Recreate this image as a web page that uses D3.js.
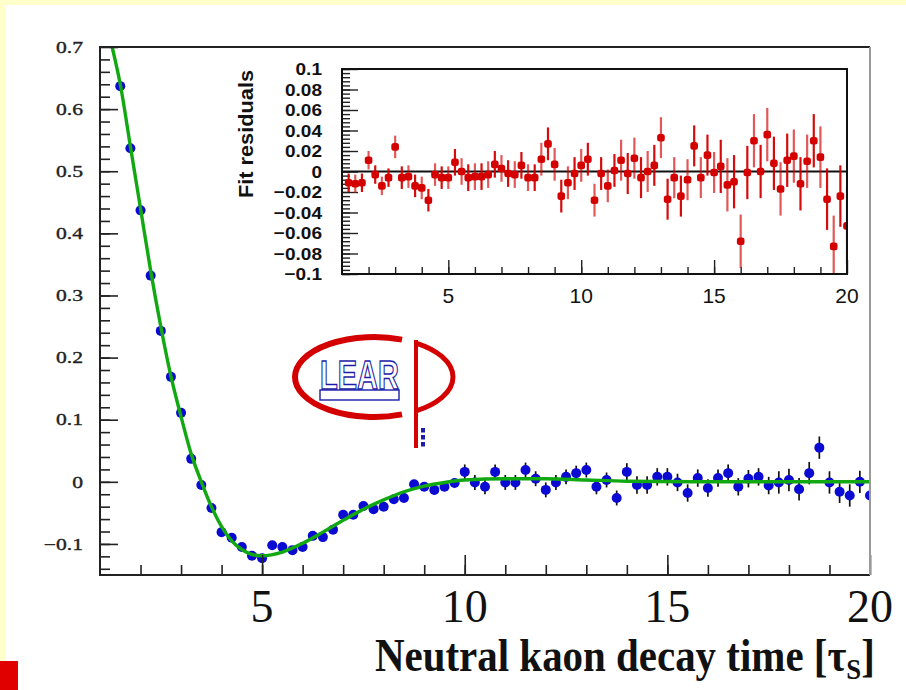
<!DOCTYPE html>
<html>
<head>
<meta charset="utf-8">
<script src="https://cdn.jsdelivr.net/npm/d3@7"></script>
<style>
  html, body { margin: 0; padding: 0; background: #ffffcc; }
  svg { display: block; }
</style>
</head>
<body>
<div id="chart"></div>
<script>
////////////////////////////  Data  ////////////////////////////
// main plot: decay-time bins and measured asymmetry
const timeBins = [1.5, 1.75, 2, 2.25, 2.5, 2.75, 3, 3.25, 3.5, 3.75,
  4, 4.25, 4.5, 4.75, 5, 5.25, 5.5, 5.75, 6, 6.25,
  6.5, 6.75, 7, 7.25, 7.5, 7.75, 8, 8.25, 8.5, 8.75,
  9, 9.25, 9.5, 9.75, 10, 10.25, 10.5, 10.75, 11, 11.25,
  11.5, 11.75, 12, 12.25, 12.5, 12.75, 13, 13.25, 13.5, 13.75,
  14, 14.25, 14.5, 14.75, 15, 15.25, 15.5, 15.75, 16, 16.25,
  16.5, 16.75, 17, 17.25, 17.5, 17.75, 18, 18.25, 18.5, 18.75,
  19, 19.25, 19.5, 19.75, 20];
const asymmetry = [0.637, 0.537, 0.437, 0.332, 0.243, 0.169, 0.111, 0.037, -0.005, -0.042,
  -0.081, -0.090, -0.105, -0.119, -0.123, -0.102, -0.105, -0.110, -0.105, -0.087,
  -0.089, -0.077, -0.053, -0.053, -0.039, -0.044, -0.040, -0.028, -0.026, -0.004,
  -0.008, -0.013, -0.008, -0.002, 0.016, -0.001, -0.008, 0.016, -0.001, -0.001,
  0.019, 0.005, -0.013, -0.001, 0.008, 0.014, 0.019, -0.008, 0.003, -0.026,
  0.016, -0.005, -0.005, 0.008, 0.008, -0.001, -0.018, 0.006, -0.010, 0.006,
  0.014, -0.008, 0.005, 0.008, -0.006, -0.001, 0.003, -0.012, 0.014, 0.055,
  -0.001, -0.016, -0.022, 0.000, -0.022];
const asymErr = [0.004, 0.004, 0.004, 0.004, 0.004, 0.004, 0.004, 0.004, 0.004, 0.004,
  0.005, 0.005, 0.005, 0.005, 0.005, 0.005, 0.005, 0.005, 0.005, 0.005,
  0.007, 0.007, 0.007, 0.007, 0.007, 0.007, 0.007, 0.007, 0.007, 0.007,
  0.007, 0.007, 0.007, 0.007, 0.012, 0.012, 0.012, 0.012, 0.012, 0.012,
  0.012, 0.012, 0.012, 0.012, 0.012, 0.012, 0.012, 0.012, 0.012, 0.012,
  0.014, 0.014, 0.014, 0.014, 0.014, 0.014, 0.014, 0.014, 0.014, 0.014,
  0.014, 0.014, 0.014, 0.014, 0.014, 0.018, 0.018, 0.018, 0.018, 0.018,
  0.018, 0.018, 0.018, 0.018, 0.018];

// fitted curve
const fitT = [1.3, 1.5, 1.75, 2, 2.25, 2.5, 2.75, 3, 3.25, 3.5,
  3.75, 4, 4.25, 4.5, 4.75, 5, 5.5, 6, 6.5, 7,
  7.5, 8, 8.5, 9, 9.5, 10, 11, 12, 13, 14, 16, 18, 20];
const fitA = [0.70, 0.64, 0.54, 0.44, 0.34, 0.25, 0.17, 0.105, 0.045, 0.0,
  -0.04, -0.072, -0.095, -0.109, -0.117, -0.119, -0.113, -0.099, -0.081, -0.062,
  -0.044, -0.029, -0.016, -0.007, -0.001, 0.003, 0.005, 0.005, 0.003, 0.001, 0.0, 0.0, 0.0];

// inset: fit residuals
const residT = [1.25, 1.5, 1.75, 2, 2.25, 2.5, 2.75, 3, 3.25, 3.5,
  3.75, 4, 4.25, 4.5, 4.75, 5, 5.25, 5.5, 5.75, 6,
  6.25, 6.5, 6.75, 7, 7.25, 7.5, 7.75, 8, 8.25, 8.5,
  8.75, 9, 9.25, 9.5, 9.75, 10, 10.25, 10.5, 10.75, 11,
  11.25, 11.5, 11.75, 12, 12.25, 12.5, 12.75, 13, 13.25, 13.5,
  13.75, 14, 14.25, 14.5, 14.75, 15, 15.25, 15.5, 15.75, 16,
  16.25, 16.5, 16.75, 17, 17.25, 17.5, 17.75, 18, 18.25, 18.5,
  18.75, 19, 19.25, 19.5, 19.75, 20];
const residuals = [-0.011, -0.012, -0.011, 0.011, -0.003, -0.014, -0.006, 0.024, -0.006, -0.005,
  -0.014, -0.016, -0.028, -0.003, -0.006, -0.006, 0.009, 0.000, -0.006, -0.005,
  -0.005, -0.003, 0.007, 0.003, -0.002, -0.003, 0.006, -0.006, -0.006, 0.012,
  0.027, 0.007, -0.024, -0.011, -0.002, 0.006, 0.012, -0.028, -0.002, -0.014,
  0.001, 0.011, -0.002, 0.013, -0.006, 0.000, 0.006, 0.033, -0.027, -0.006,
  -0.024, -0.008, 0.025, -0.006, 0.016, -0.001, 0.005, -0.013, -0.010, -0.068,
  -0.001, 0.030, 0.000, 0.036, 0.008, -0.017, 0.011, 0.015, -0.012, 0.010,
  0.030, 0.014, -0.027, -0.073, -0.024, -0.053];
const residErr = [0.009, 0.009, 0.009, 0.009, 0.009, 0.009, 0.009, 0.011, 0.011, 0.011,
  0.011, 0.011, 0.011, 0.011, 0.011, 0.011, 0.013, 0.013, 0.013, 0.013,
  0.013, 0.013, 0.013, 0.013, 0.013, 0.013, 0.013, 0.013, 0.013, 0.016,
  0.016, 0.016, 0.016, 0.016, 0.016, 0.016, 0.016, 0.016, 0.016, 0.016,
  0.016, 0.020, 0.020, 0.020, 0.020, 0.020, 0.020, 0.020, 0.020, 0.020,
  0.020, 0.020, 0.020, 0.020, 0.020, 0.020, 0.026, 0.026, 0.026, 0.026,
  0.026, 0.026, 0.026, 0.026, 0.026, 0.026, 0.026, 0.026, 0.026, 0.026,
  0.026, 0.030, 0.030, 0.030, 0.030, 0.038];

// tick labels
const mainYTicks = [0.7, 0.6, 0.5, 0.4, 0.3, 0.2, 0.1, 0, -0.1];
const mainYLabels = ["0.7", "0.6", "0.5", "0.4", "0.3", "0.2", "0.1", "0", "\u22120.1"];
const mainXTicks = [5, 10, 15, 20];
const insetYTicks = [0.1, 0.08, 0.06, 0.04, 0.02, 0, -0.02, -0.04, -0.06, -0.08, -0.1];
const insetYLabels = ["0.1", "0.08", "0.06", "0.04", "0.02", "0", "\u22120.02", "\u22120.04", "\u22120.06", "\u22120.08", "\u22120.1"];
const insetXTicks = [5, 10, 15, 20];

const xTitle = "Neutral kaon decay time [\u03c4";
const xTitleSub = "S";
const insetTitle = "Fit residuals";

////////////////////////////  Init  ////////////////////////////
const width = 906, height = 690;
const blue = "#0a0ad2", red = "#d40000", green = "#12a812";

const svg = d3.select("#chart").append("svg")
  .attr("width", width).attr("height", height);

// page background: yellow rim, white sheet
svg.append("rect").attr("width", width).attr("height", height).attr("fill", "#ffffcc");
svg.append("rect").attr("x", 6).attr("y", 5).attr("width", width - 6).attr("height", height - 5)
  .attr("fill", "#fff");
svg.append("rect").attr("x", 0).attr("y", 661).attr("width", 18).attr("height", 29).attr("fill", "#e00000");

// scales
const x = d3.scaleLinear().domain([1, 20]).range([100, 870]);
const y = d3.scaleLinear().domain([-0.15, 0.7]).range([575, 47]);
const xi = d3.scaleLinear().domain([1, 20]).range([342, 847]);
const yi = d3.scaleLinear().domain([-0.1, 0.1]).range([274, 69]);

svg.append("clipPath").attr("id", "clipMain").append("rect")
  .attr("x", 100).attr("y", 47).attr("width", 770).attr("height", 528);
svg.append("clipPath").attr("id", "clipInset").append("rect")
  .attr("x", 342).attr("y", 69).attr("width", 505).attr("height", 205);

////////////////////////////  Main plot  ////////////////////////////
const main = svg.append("g");
const plot = main.append("g").attr("clip-path", "url(#clipMain)");

const pts = timeBins.map((t, i) => ({ t, a: asymmetry[i], e: asymErr[i] }));

plot.selectAll(".err").data(pts).join("line")
  .attr("x1", d => x(d.t)).attr("x2", d => x(d.t))
  .attr("y1", d => y(d.a - d.e)).attr("y2", d => y(d.a + d.e))
  .attr("stroke", "#111").attr("stroke-width", 1.7);

plot.selectAll(".pt").data(pts).join("circle")
  .attr("cx", d => x(d.t)).attr("cy", d => y(d.a)).attr("r", 5)
  .attr("fill", blue);

const fitLine = d3.line()
  .x((d, i) => x(fitT[i]))
  .y(d => y(d))
  .curve(d3.curveMonotoneX);

plot.append("path").datum(fitA)
  .attr("d", fitLine)
  .attr("fill", "none").attr("stroke", green).attr("stroke-width", 3.4);

// axes (ticks point inwards)
main.append("g").attr("transform", "translate(0,575)")
  .call(d3.axisBottom(x).tickValues(d3.range(2, 20)).tickSize(-10).tickFormat(""))
  .call(g => g.select(".domain").remove());
main.append("g").attr("transform", "translate(0,575)")
  .call(d3.axisBottom(x).tickValues(mainXTicks).tickSize(-20).tickFormat(""))
  .call(g => g.select(".domain").remove());
main.append("g").attr("transform", "translate(100,0)")
  .call(d3.axisLeft(y).tickValues(d3.range(-7, 35).map(k => k * 0.02)).tickSize(-10).tickFormat(""))
  .call(g => g.select(".domain").remove());
main.append("g").attr("transform", "translate(100,0)")
  .call(d3.axisLeft(y).tickValues(mainYTicks).tickSize(-18).tickFormat(""))
  .call(g => g.select(".domain").remove());
main.selectAll(".tick line").attr("stroke", "#222").attr("stroke-width", 1.6);

// frame
main.append("path")
  .attr("d", `M870,47H100V575H870`)
  .attr("fill", "none").attr("stroke", "#222").attr("stroke-width", 2);
main.append("line").attr("x1", 870).attr("x2", 870).attr("y1", 47).attr("y2", 575)
  .attr("stroke", "#999").attr("stroke-width", 2);

// y tick labels
main.selectAll(".ylab").data(mainYTicks).join("g")
  .attr("transform", d => `translate(83,${y(d)}) scale(1.35,1)`)
  .append("text")
  .attr("text-anchor", "end").attr("dy", "0.36em")
  .attr("font-family", "Liberation Serif").attr("font-size", 16)
  .attr("fill", "#222").attr("stroke", "#222").attr("stroke-width", 0.35)
  .text((d, i) => mainYLabels[i]);

// x tick labels
main.selectAll(".xlab").data(mainXTicks).join("text")
  .attr("x", d => x(d)).attr("y", 622)
  .attr("text-anchor", "middle")
  .attr("font-family", "Liberation Serif").attr("font-size", 46)
  .attr("fill", "#111")
  .text(d => d);

// x title, squeezed to the width it has in the picture
const titleG = main.append("g");
const title = titleG.append("text")
  .attr("font-family", "Liberation Serif").attr("font-weight", "bold")
  .attr("font-size", 46).attr("fill", "#111");
title.append("tspan").text(xTitle);
title.append("tspan").attr("font-size", 30).attr("dy", 8).text(xTitleSub);
title.append("tspan").attr("dy", -8).text("]");
const tw = title.node().getComputedTextLength();
const titleW = 500;
titleG.attr("transform", `translate(${875 - titleW},671) scale(${titleW / tw},1)`);

////////////////////////////  Inset  ////////////////////////////
const inset = svg.append("g");
inset.append("rect").attr("x", 342).attr("y", 69).attr("width", 505).attr("height", 205)
  .attr("fill", "#fff");

inset.append("g").attr("transform", "translate(0,274)")
  .call(d3.axisBottom(xi).tickValues(d3.range(2, 20)).tickSize(-7).tickFormat(""))
  .call(g => g.select(".domain").remove());
inset.append("g").attr("transform", "translate(0,274)")
  .call(d3.axisBottom(xi).tickValues(insetXTicks).tickSize(-14).tickFormat(""))
  .call(g => g.select(".domain").remove());
inset.append("g").attr("transform", "translate(342,0)")
  .call(d3.axisLeft(yi).tickValues(d3.range(-25, 26).map(k => k * 0.004)).tickSize(-8).tickFormat(""))
  .call(g => g.select(".domain").remove());
inset.append("g").attr("transform", "translate(342,0)")
  .call(d3.axisLeft(yi).tickValues(insetYTicks).tickSize(-16).tickFormat(""))
  .call(g => g.select(".domain").remove());
inset.selectAll(".tick line").attr("stroke", "#222").attr("stroke-width", 1.4);

// zero line
inset.append("line").attr("x1", 342).attr("x2", 847).attr("y1", yi(0)).attr("y2", yi(0))
  .attr("stroke", "#111").attr("stroke-width", 2);

const res = residT.map((t, i) => ({ t, r: residuals[i], e: residErr[i] }));
const resG = inset.append("g").attr("clip-path", "url(#clipInset)");
const halfBin = (xi(1.25) - xi(1)) / 2;

resG.selectAll(".rerr").data(res).join("line")
  .attr("x1", d => xi(d.t)).attr("x2", d => xi(d.t))
  .attr("y1", d => yi(d.r - d.e)).attr("y2", d => yi(d.r + d.e))
  .attr("stroke", red).attr("stroke-width", 2.2).attr("opacity", (d, i) => i % 2 ? 0.65 : 0.95);
resG.selectAll(".rbin").data(res).join("line")
  .attr("x1", d => xi(d.t) - halfBin).attr("x2", d => xi(d.t) + halfBin)
  .attr("y1", d => yi(d.r)).attr("y2", d => yi(d.r))
  .attr("stroke", red).attr("stroke-width", 2);
resG.selectAll(".rpt").data(res).join("rect")
  .attr("x", d => xi(d.t) - 3.8).attr("y", d => yi(d.r) - 3.8)
  .attr("width", 7.6).attr("height", 7.6).attr("rx", 2.5)
  .attr("fill", red);

inset.append("rect").attr("x", 342).attr("y", 69).attr("width", 505).attr("height", 205)
  .attr("fill", "none").attr("stroke", "#111").attr("stroke-width", 2);

// inset labels
inset.selectAll(".iylab").data(insetYTicks).join("g")
  .attr("transform", d => `translate(322,${yi(d)}) scale(1.12,1)`)
  .append("text")
  .attr("text-anchor", "end").attr("dy", "0.36em")
  .attr("font-family", "Liberation Sans").attr("font-weight", "bold").attr("font-size", 17)
  .attr("fill", "#111")
  .text((d, i) => insetYLabels[i]);

inset.selectAll(".ixlab").data(insetXTicks).join("text")
  .attr("x", d => xi(d)).attr("y", 303)
  .attr("text-anchor", "middle")
  .attr("font-family", "Liberation Sans").attr("font-size", 21)
  .attr("fill", "#111")
  .text(d => d);

inset.append("text")
  .attr("transform", "translate(253,134) rotate(-90)")
  .attr("text-anchor", "middle")
  .attr("font-family", "Liberation Sans").attr("font-weight", "bold").attr("font-size", 20)
  .attr("textLength", 128).attr("lengthAdjust", "spacingAndGlyphs")
  .attr("fill", "#111")
  .text(insetTitle);

////////////////////////////  LEAR logo  ////////////////////////////
const logo = svg.append("g");
const cx = 374, cy = 377, rx = 79, ry = 40;
const ey = px => ry * Math.sqrt(1 - ((px - cx) / rx) ** 2);
logo.append("path")
  .attr("d", `M402,${cy - ey(402)} A${rx},${ry} 0 1,0 402,${cy + ey(402)}`)
  .attr("fill", "none").attr("stroke", red).attr("stroke-width", 6);
logo.append("path")
  .attr("d", `M416,${cy - ey(416)} A${rx},${ry} 0 0,1 416,${cy + ey(416)}`)
  .attr("fill", "none").attr("stroke", red).attr("stroke-width", 5);
logo.append("line").attr("x1", 416).attr("x2", 416).attr("y1", 340).attr("y2", 448)
  .attr("stroke", red).attr("stroke-width", 4);

const learG = logo.append("g");
const lear = learG.append("text")
  .attr("font-family", "Liberation Sans").attr("font-weight", "bold").attr("font-size", 40)
  .attr("fill", "#fff").attr("stroke", "#1c1ca8").attr("stroke-width", 1.4)
  .text("LEAR");
const lw = lear.node().getComputedTextLength();
learG.attr("transform", `translate(320,389) scale(${79 / lw},1)`);
logo.append("rect").attr("x", 320).attr("y", 390).attr("width", 79).attr("height", 10)
  .attr("fill", "none").attr("stroke", "#1c1ca8").attr("stroke-width", 1.4);
[428, 435, 442].forEach(yy => {
  logo.append("rect").attr("x", 421).attr("y", yy).attr("width", 4).attr("height", 4.5)
    .attr("fill", "#1c1ca8");
});
</script>
</body>
</html>
